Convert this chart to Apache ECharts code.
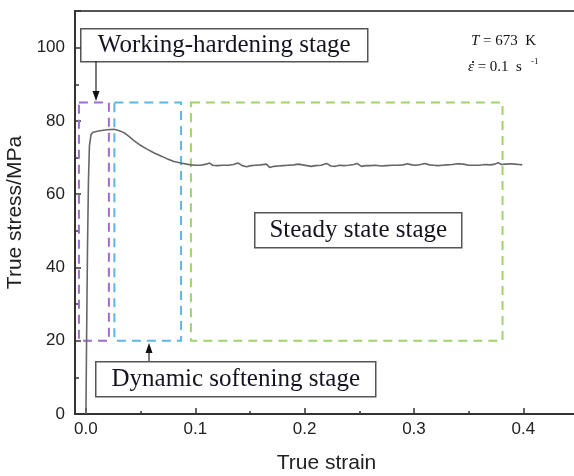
<!DOCTYPE html>
<html>
<head>
<meta charset="utf-8">
<script src="https://cdn.jsdelivr.net/npm/echarts@6/dist/echarts.min.js"></script>
<style>
  html, body { margin: 0; padding: 0; background: #fff; }
  #chart { width: 574px; height: 476px; }
</style>
</head>
<body>
<div id="chart"></div>
<script>
// 曲线数据
const strain = [0, 0.0005, 0.0014, 0.0023, 0.0032, 0.0046, 0.0064, 0.0128, 0.0192, 0.0256, 0.030, 0.0348, 0.0393, 0.0439, 0.049, 0.0558, 0.062, 0.068, 0.074, 0.0805, 0.0866, 0.0958,
  0.100, 0.105, 0.110, 0.113, 0.116, 0.120, 0.125, 0.130, 0.135, 0.139, 0.143, 0.147, 0.151, 0.155, 0.160, 0.165, 0.168, 0.172, 0.176, 0.180, 0.185, 0.190, 0.194, 0.198,
  0.202, 0.206, 0.210, 0.215, 0.220, 0.224, 0.228, 0.232, 0.236, 0.240, 0.245, 0.248, 0.252, 0.256, 0.260, 0.265, 0.270, 0.275, 0.280, 0.285, 0.290, 0.294, 0.298,
  0.302, 0.306, 0.310, 0.314, 0.318, 0.322, 0.326, 0.330, 0.335, 0.340, 0.345, 0.350, 0.355, 0.360, 0.365, 0.370, 0.374, 0.377, 0.380, 0.384, 0.388, 0.392, 0.396, 0.399]
const stress = [0, 17.4, 44.6, 63.7, 73.2, 76.2, 76.9, 77.3, 77.6, 77.7, 77.4, 76.8, 75.8, 74.6, 73.5, 72.3, 71.3, 70.5, 69.7, 68.9, 68.5, 68.0,
  67.9, 67.9, 68.2, 68.5, 67.9, 67.8, 67.9, 67.9, 68.1, 68.5, 67.8, 67.5, 67.8, 67.9, 68.0, 68.2, 67.3, 67.6, 67.7, 67.8, 67.9, 68.0, 68.2, 68.0,
  67.8, 67.6, 67.8, 67.9, 68.4, 67.7, 67.6, 67.9, 67.8, 67.9, 68.1, 68.4, 67.6, 67.8, 67.8, 67.9, 67.7, 67.8, 67.9, 67.9, 68.0, 68.3, 68.0,
  67.9, 68.1, 68.4, 68.0, 67.9, 67.8, 67.9, 68.0, 68.1, 68.3, 68.2, 67.9, 67.9, 67.9, 68.1, 68.0, 68.2, 68.6, 68.1, 68.2, 68.3, 68.2, 68.1, 68.0]

// 刻度
const xMajorTicks = [0, 0.1, 0.2, 0.3, 0.4]
const xMinorTicks = [0.05, 0.15, 0.25, 0.35, 0.45]

// 三个阶段的虚线框（应变范围、应力范围）
const stageNames = ["hardening", "softening", "steady"]
const stageStrainFrom = [-0.0064, 0.026, 0.096]
const stageStrainTo = [0.021, 0.087, 0.381]
const stageStressFrom = [20, 20, 20]
const stageStressTo = [85, 85, 85]
const stageColors = ["#a36bd0", "#5cb6e6", "#9fd46c"]

const chart = echarts.init(document.getElementById("chart"))

const areas = stageNames.map((n, i) => [
  {
    xAxis: stageStrainFrom[i],
    yAxis: stageStressTo[i],
    itemStyle: { color: "rgba(0,0,0,0)", borderColor: stageColors[i], borderWidth: 2, borderType: [9, 6] }
  },
  { xAxis: stageStrainTo[i], yAxis: stageStressFrom[i] }
])

const serif = "Liberation Serif, Times New Roman, serif"
const boxStyle = { fill: "#fff", stroke: "#555", lineWidth: 1.5 }

function labelBox(x, y, w, h, text) {
  return {
    type: "group",
    left: x,
    top: y,
    children: [
      { type: "rect", shape: { x: 0, y: 0, width: w, height: h }, style: boxStyle },
      {
        type: "text",
        x: w / 2,
        y: h / 2,
        style: { text: text, font: "25px " + serif, fill: "#141420", align: "center", verticalAlign: "middle" }
      }
    ]
  }
}

const option = {
  animation: false,
  grid: {
    left: 75,
    top: 11,
    width: 503,
    height: 403,
    outerBoundsMode: "none",
    show: true,
    borderColor: "#555",
    borderWidth: 2
  },
  xAxis: [
    {
      type: "value",
      min: -0.01,
      max: 0.45,
      position: "bottom",
      name: "True strain",
      nameLocation: "middle",
      nameGap: 39,
      nameTextStyle: { fontFamily: "Liberation Sans", fontSize: 21, color: "#222" },
      axisLine: { onZero: false, lineStyle: { color: "#333", width: 2 } },
      axisTick: { inside: true, length: 6, customValues: xMajorTicks, lineStyle: { color: "#333", width: 1.5 } },
      axisLabel: {
        customValues: xMajorTicks,
        margin: 7,
        fontFamily: "Liberation Sans",
        fontSize: 17,
        color: "#222",
        formatter: (v) => v.toFixed(1)
      },
      splitLine: { show: false }
    },
    {
      type: "value",
      min: -0.01,
      max: 0.45,
      position: "bottom",
      axisLine: { show: false },
      axisTick: { inside: true, length: 3, customValues: xMinorTicks, lineStyle: { color: "#333", width: 1.5 } },
      axisLabel: { show: false },
      splitLine: { show: false }
    }
  ],
  yAxis: {
    type: "value",
    min: 0,
    max: 110,
    interval: 20,
    name: "True stress/MPa",
    nameLocation: "middle",
    nameGap: 42,
    nameTextStyle: { fontFamily: "Liberation Sans", fontSize: 21, color: "#222" },
    axisLine: { show: true, onZero: false, lineStyle: { color: "#333", width: 2 } },
    axisTick: { inside: true, length: 6, lineStyle: { color: "#333", width: 1.5 } },
    minorTick: { show: true, splitNumber: 2, length: 4, lineStyle: { color: "#333", width: 1.5 } },
    axisLabel: { margin: 10, fontFamily: "Liberation Sans", fontSize: 17, color: "#222", showMaxLabel: false },
    splitLine: { show: false }
  },
  series: [
    {
      type: "line",
      data: strain.map((s, i) => [s, stress[i]]),
      showSymbol: false,
      lineStyle: { color: "#666", width: 1.6 },
      markArea: { silent: true, label: { show: false }, data: areas },
      z: 3
    }
  ],
  graphic: [
    labelBox(80, 28, 287, 33, "Working-hardening stage"),
    labelBox(95, 361, 280, 35, "Dynamic softening stage"),
    labelBox(254, 212, 207, 35, "Steady state stage"),
    // 箭头
    { type: "line", shape: { x1: 96, y1: 61, x2: 96, y2: 93 }, style: { stroke: "#222", lineWidth: 1.2 } },
    { type: "polygon", shape: { points: [[92.5, 91], [99.5, 91], [96, 101]] }, style: { fill: "#111" } },
    { type: "line", shape: { x1: 149, y1: 361, x2: 149, y2: 351 }, style: { stroke: "#222", lineWidth: 1.2 } },
    { type: "polygon", shape: { points: [[145.5, 353], [152.5, 353], [149, 343]] }, style: { fill: "#111" } },
    // 试验条件
    {
      type: "text",
      left: 471,
      top: 34,
      style: {
        text: "{i|T} = 673  K",
        font: "15px " + serif,
        fill: "#111",
        rich: { i: { fontStyle: "italic", fontFamily: serif, fontSize: 15 } }
      }
    },
    {
      type: "text",
      left: 468,
      top: 60,
      style: {
        text: "{i|\u03b5} = 0.1  s",
        font: "15px " + serif,
        fill: "#111",
        rich: { i: { fontStyle: "italic", fontFamily: serif, fontSize: 15 } }
      }
    },
    { type: "circle", shape: { cx: 473, cy: 62, r: 1.1 }, style: { fill: "#111" } },
    { type: "text", left: 531, top: 57, style: { text: "-1", font: "9px " + serif, fill: "#111" } }
  ]
}

chart.setOption(option)
</script>
</body>
</html>
